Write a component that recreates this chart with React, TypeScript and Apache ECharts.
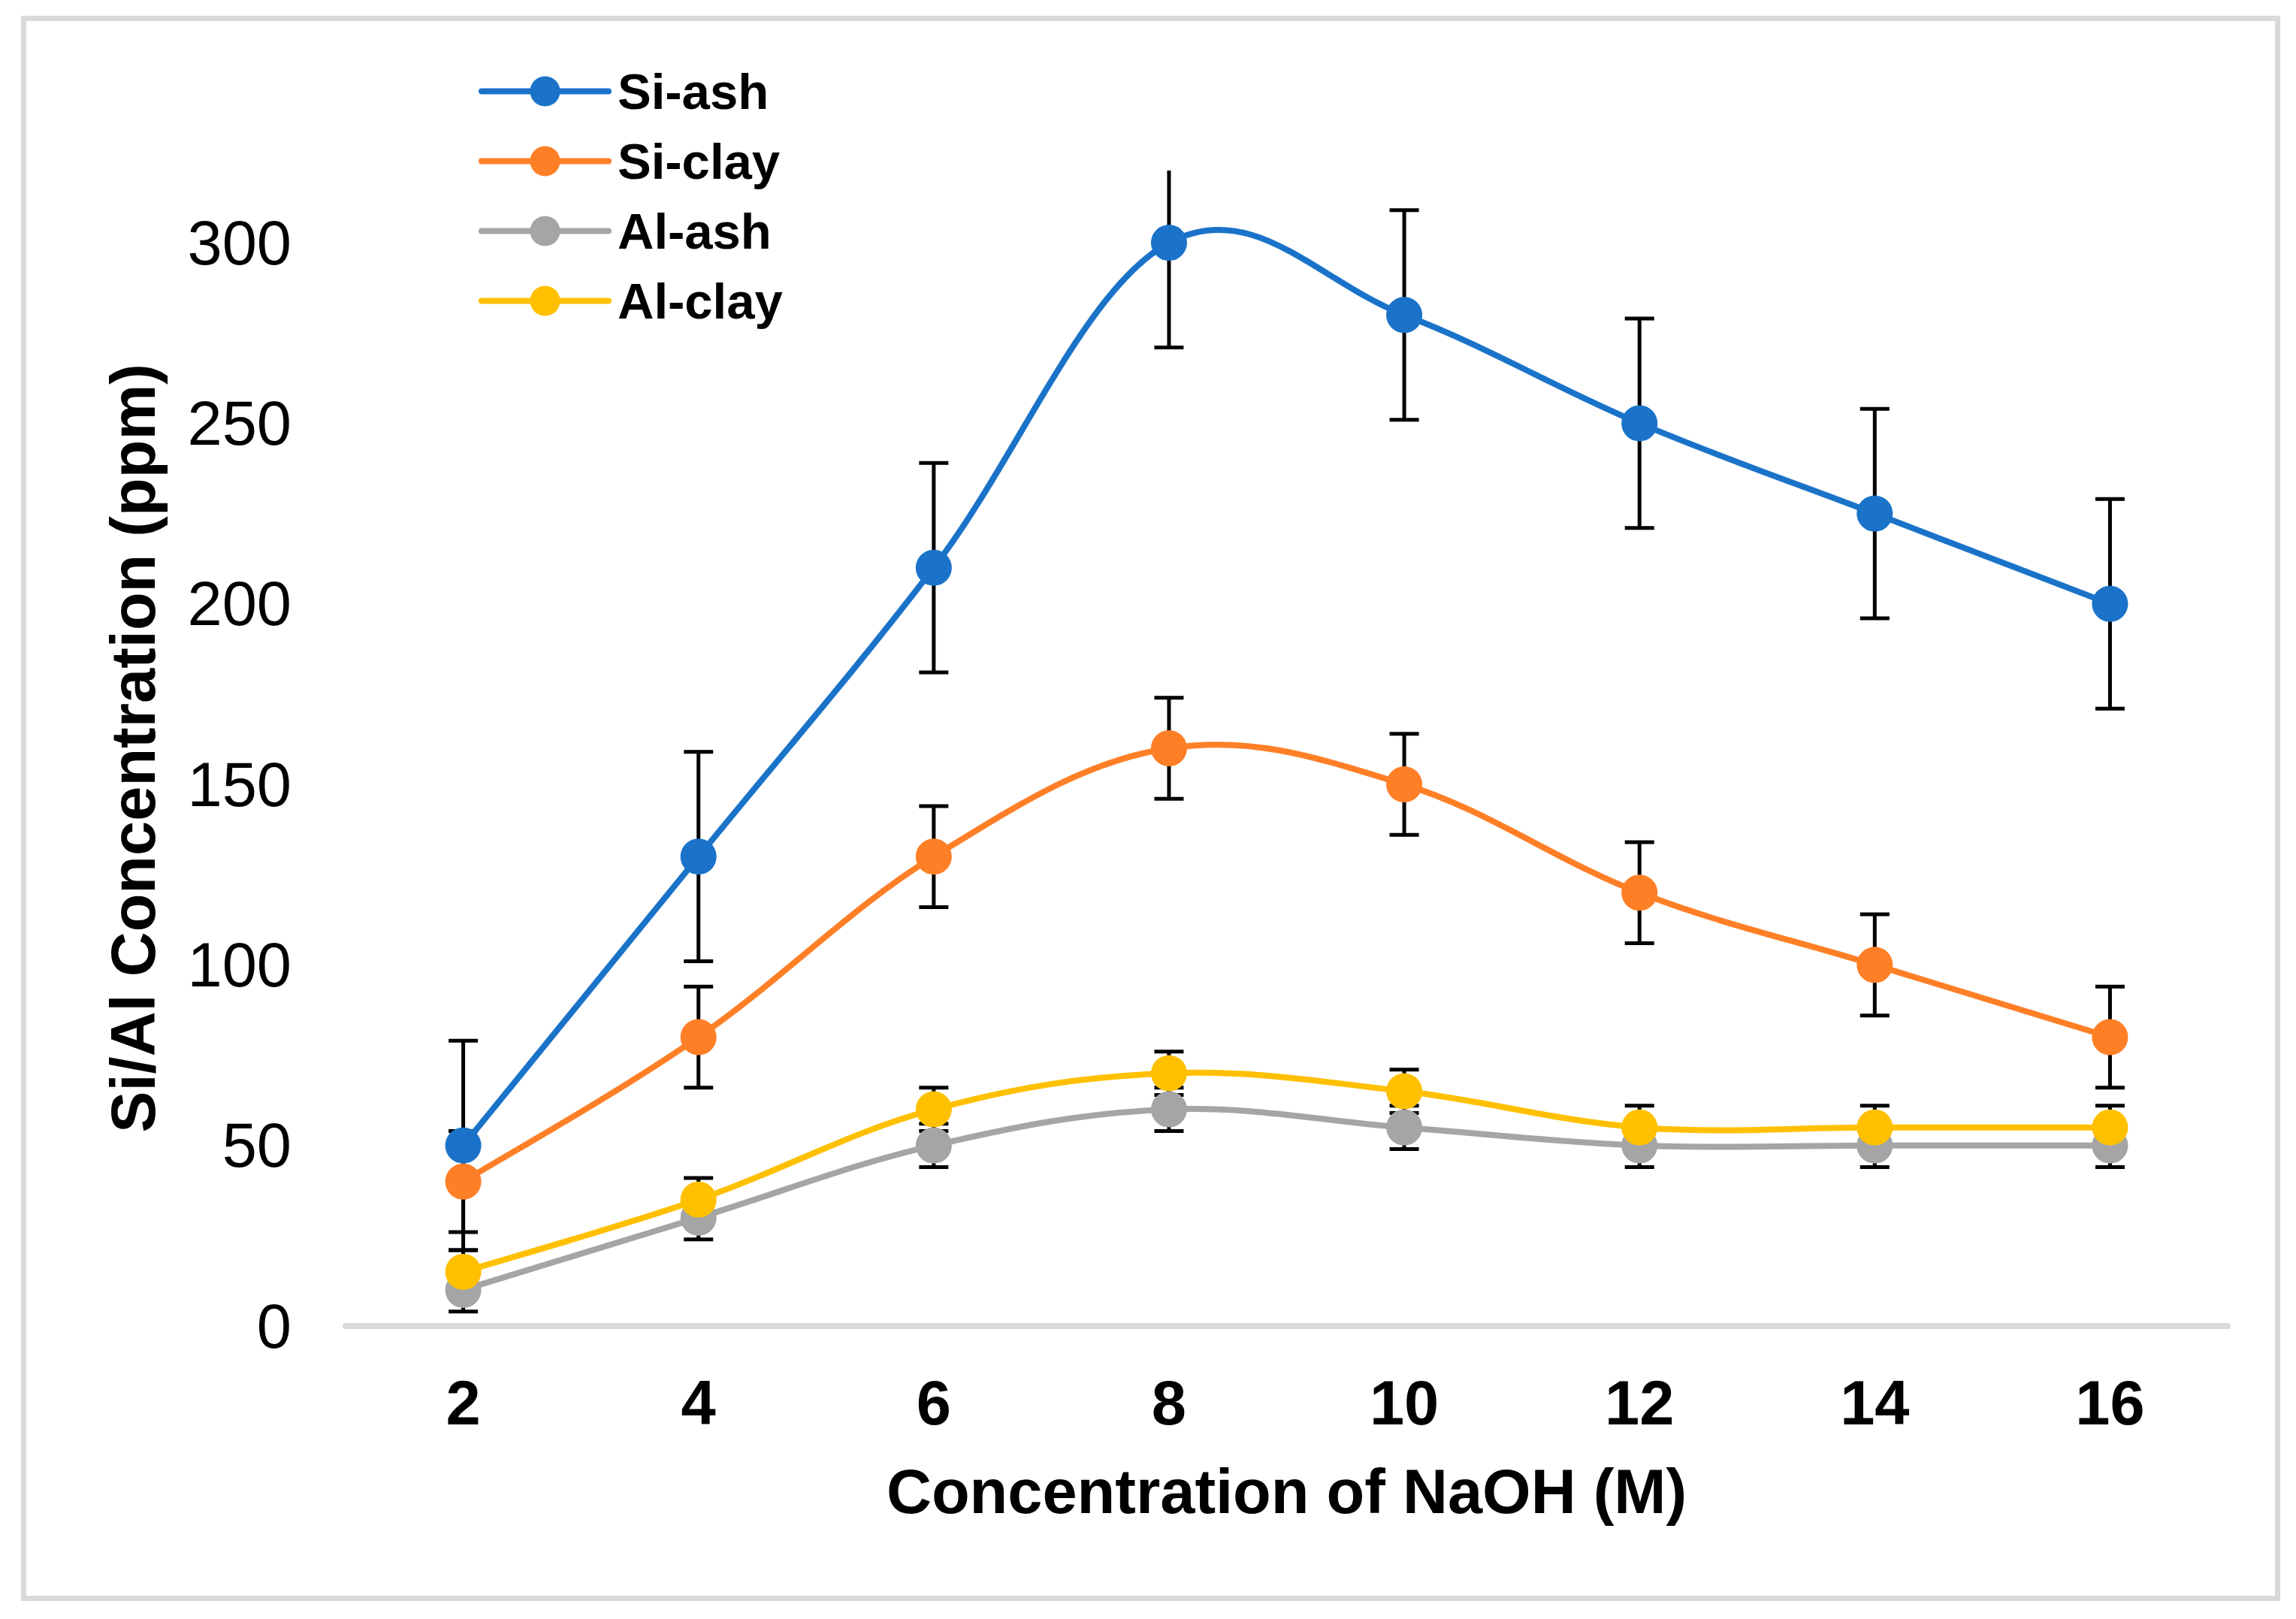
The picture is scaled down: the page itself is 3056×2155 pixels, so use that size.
import React, { useEffect, useRef } from "react";
import * as echarts from "echarts";

// NaOH concentration (M)
const naohLabels = ["2", "4", "6", "8", "10", "12", "14", "16"];

// Si / Al concentration (ppm)
const siAsh = [50, 130, 210, 300, 280, 250, 225, 200];
const siAshErr = [29, 29, 29, 29, 29, 29, 29, 29];
const siClay = [40, 80, 130, 160, 150, 120, 100, 80];
const siClayErr = [14, 14, 14, 14, 14, 14, 14, 14];
const alAsh = [10, 30, 50, 60, 55, 50, 50, 50];
const alAshErr = [6, 6, 6, 6, 6, 6, 6, 6];
const alClay = [15, 35, 60, 70, 65, 55, 55, 55];
const alClayErr = [6, 6, 6, 6, 6, 6, 6, 6];

const Y_MAX = 320;
const TENSION = 0.18; // Excel-like smoothed line
const FONT = "'Liberation Sans', Arial, sans-serif";

const seriesDefs = [
  { name: "Si-ash", color: "#1a73c9", values: siAsh, errors: siAshErr },
  { name: "Si-clay", color: "#ff7f27", values: siClay, errors: siClayErr },
  { name: "Al-ash", color: "#a5a5a5", values: alAsh, errors: alAshErr },
  { name: "Al-clay", color: "#ffc000", values: alClay, errors: alClayErr },
];

// vertical error bar, clipped at the top of the plot area like Excel does
const renderErrorBar = (params: any, api: any) => {
  const idx = api.value(0);
  const v = api.value(1);
  const e = api.value(2);
  const hiVal = Math.min(v + e, Y_MAX);
  const loVal = Math.max(v - e, 0);
  const top = api.coord([idx, hiVal]);
  const bot = api.coord([idx, loVal]);
  const half = 19.5;
  const style = { stroke: "#000", lineWidth: 5 };
  const children: any[] = [
    { type: "line", shape: { x1: top[0], y1: top[1], x2: bot[0], y2: bot[1] }, style },
    { type: "line", shape: { x1: bot[0] - half, y1: bot[1], x2: bot[0] + half, y2: bot[1] }, style },
  ];
  if (v + e <= Y_MAX) {
    children.push({
      type: "line",
      shape: { x1: top[0] - half, y1: top[1], x2: top[0] + half, y2: top[1] },
      style,
    });
  }
  return { type: "group", children };
};

// one bezier segment per point (Catmull-Rom style control points)
const makeCurveRenderer = (values: number[], color: string) => (params: any, api: any) => {
  const i = api.value(0);
  const n = values.length;
  if (i >= n - 1) return null;
  const pt = (j: number) => {
    const k = Math.max(0, Math.min(n - 1, j));
    return api.coord([k, values[k]]);
  };
  const p0 = pt(i - 1);
  const p1 = pt(i);
  const p2 = pt(i + 1);
  const p3 = pt(i + 2);
  return {
    type: "bezierCurve",
    shape: {
      x1: p1[0],
      y1: p1[1],
      x2: p2[0],
      y2: p2[1],
      cpx1: p1[0] + (p2[0] - p0[0]) * TENSION,
      cpy1: p1[1] + (p2[1] - p0[1]) * TENSION,
      cpx2: p2[0] - (p3[0] - p1[0]) * TENSION,
      cpy2: p2[1] - (p3[1] - p1[1]) * TENSION,
    },
    style: { stroke: color, lineWidth: 8, fill: "none", lineCap: "round" },
  };
};

const App: React.FC = () => {
  const chartRef = useRef<HTMLDivElement>(null);

  useEffect(() => {
    if (!chartRef.current) return;
    const chart = echarts.init(chartRef.current, undefined, { renderer: "svg" });

    const errorSeries = seriesDefs.map((s) => ({
      name: s.name + " error",
      type: "custom",
      renderItem: renderErrorBar,
      data: s.values.map((v, i) => [i, v, s.errors[i]]),
      encode: { x: 0, y: 1 },
      z: 1,
      silent: true,
    }));

    const curveSeries = seriesDefs.map((s) => ({
      name: s.name + " curve",
      type: "custom",
      renderItem: makeCurveRenderer(s.values, s.color),
      data: s.values.map((v, i) => [i, v]),
      encode: { x: 0, y: 1 },
      z: 2,
      silent: true,
    }));

    const markerSeries = seriesDefs.map((s) => ({
      name: s.name,
      type: "line",
      data: s.values,
      symbol: "circle",
      symbolSize: 48,
      showSymbol: true,
      lineStyle: { color: s.color, width: 8, opacity: 0 },
      itemStyle: { color: s.color },
      z: 3,
    }));

    chart.setOption({
      animation: false,
      backgroundColor: "#fff",
      graphic: [
        {
          type: "rect",
          shape: { x: 31.5, y: 24.5, width: 3000, height: 2103 },
          style: { fill: "none", stroke: "#d9d9d9", lineWidth: 7 },
          z: -1,
        },
      ],
      legend: {
        data: seriesDefs.map((s) => s.name),
        orient: "vertical",
        left: 637,
        top: 88,
        padding: 0,
        itemWidth: 169,
        itemHeight: 50,
        itemGap: 26,
        lineStyle: { width: 8, opacity: 1, cap: "round" },
        textStyle: {
          fontFamily: FONT,
          fontSize: 67,
          fontWeight: "bold",
          color: "#000",
          lineHeight: 67,
          padding: [0, 0, 0, 7],
        },
      },
      grid: { left: 460, right: 91, top: 227, bottom: 390 },
      xAxis: {
        type: "category",
        data: naohLabels,
        boundaryGap: true,
        name: "Concentration of NaOH (M)",
        nameLocation: "middle",
        nameGap: 179,
        nameTextStyle: { fontFamily: FONT, fontSize: 83, fontWeight: "bold", color: "#000" },
        axisLine: { show: true, lineStyle: { color: "#d9d9d9", width: 8 } },
        axisTick: { show: false },
        axisLabel: { fontFamily: FONT, fontSize: 83, fontWeight: "bold", color: "#000", margin: 61 },
        splitLine: { show: false },
      },
      yAxis: {
        type: "value",
        min: 0,
        max: Y_MAX,
        interval: 50,
        name: "Si/Al Concentration (ppm)",
        nameLocation: "middle",
        nameGap: 241,
        nameRotate: 90,
        nameTextStyle: { fontFamily: FONT, fontSize: 83, fontWeight: "bold", color: "#000" },
        axisLine: { show: false },
        axisTick: { show: false },
        splitLine: { show: false },
        axisLabel: {
          fontFamily: FONT,
          fontSize: 83,
          color: "#000",
          margin: 72,
          showMaxLabel: false,
        },
      },
      series: [...errorSeries, ...curveSeries, ...markerSeries],
    });

    return () => {
      chart.dispose();
    };
  }, []);

  return (
    <div
      ref={chartRef}
      style={{ position: "absolute", left: 0, top: 0, width: "3056px", height: "2155px" }}
    />
  );
};

export default App;
